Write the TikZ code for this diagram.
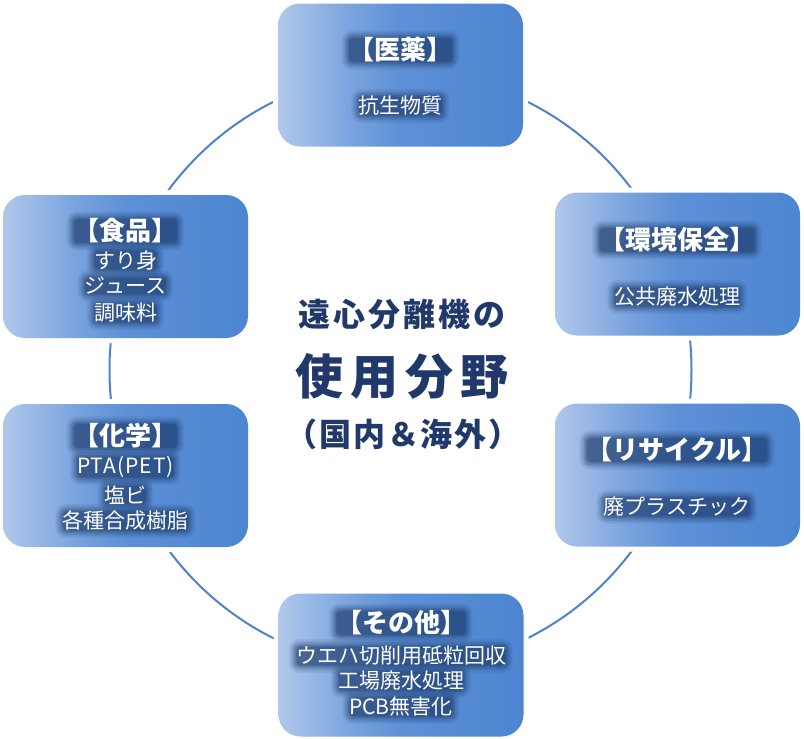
\documentclass[tikz,border=0pt]{standalone}
\usepackage{fontspec}
\newfontfamily\jp{Noto Sans CJK JP}
\definecolor{bl1}{HTML}{B0C8EB}
\definecolor{bl2}{HTML}{79A3DE}
\definecolor{bl3}{HTML}{5D90D7}
\definecolor{bl4}{HTML}{4D85D1}
\definecolor{ringc}{HTML}{4F82CC}
\definecolor{haloB}{HTML}{1A3766}
\definecolor{navy}{HTML}{21396A}
\pgfdeclarehorizontalshading{boxsh}{100bp}{color(0bp)=(bl1); color(25bp)=(bl1); color(40bp)=(bl2); color(50bp)=(bl3); color(75bp)=(bl4); color(100bp)=(bl4)}
\pgfdeclarelayer{back}
\pgfdeclarelayer{mid}
\pgfsetlayers{back,mid,main}
\newcommand\halo[1]{%
  \foreach \k/\o/\r in {7/0.07/10, 5.5/0.09/9, 4/0.12/8, 2.5/0.15/6, 1/0.2/5, -0.5/0.3/4} {%
    \fill[haloB, opacity=\o, rounded corners=\r pt]
      ([shift={(-\k pt,\k pt)}]#1.north west) rectangle ([shift={(\k pt,-\k pt)}]#1.south east);
  }}
\tikzset{
  box/.style={rectangle, rounded corners=22pt, minimum width=245pt, minimum height=143pt,
    inner sep=0pt, shade, shading=boxsh, preaction={draw=white, line width=10pt}},
  head/.style={font=\jp\bfseries\fontsize{26}{30}\selectfont, text=white, inner sep=0pt},
  body/.style={font=\jp\fontsize{21}{26}\selectfont, text=white, inner sep=0pt},
  ring/.style={draw=ringc, line width=2pt},
  ttl/.style={text=navy, inner sep=0pt},
  t1font/.style={font=\jp\bfseries\fontsize{32}{36}\selectfont\addfontfeatures{LetterSpace=10}},
  t2font/.style={font=\jp\bfseries\fontsize{48}{52}\selectfont\addfontfeatures{LetterSpace=14}},
  t3font/.style={font=\jp\bfseries\fontsize{32}{36}\selectfont\addfontfeatures{LetterSpace=6}},
}
\begin{document}
\begin{tikzpicture}[x=1pt,y=-1pt]
\useasboundingbox (0,0) rectangle (804,739);
\coordinate (O) at (400.5,370);

\begin{pgfonlayer}{back}
\fill[white] (0,0) rectangle (804,739);
\draw[ring] (O) ellipse[x radius=291, y radius=298];
\node[box] (med)  at (400.5,75) {};
\node[box] (env)  at (677.5,264) {};
\node[box] (rec)  at (677.5,475) {};
\node[box] (oth)  at (401,665) {};
\node[box] (chem) at (125.5,475.5) {};
\node[box] (food) at (125.5,266.5) {};
\end{pgfonlayer}

\node[head] (med-h) at (400.5,50) {【医薬】};
\node[body] (med-1) at (400.5,106) {抗生物質};

\node[head] (env-h) at (677,240) {【環境保全】};
\node[body] (env-1) at (677,297) {公共廃水処理};

\node[head] (rec-h) at (677,450) {【リサイクル】};
\node[body] (rec-1) at (677,507) {廃プラスチック};

\node[head] (oth-h) at (401,623) {【その他】};
\node[body] (oth-1) at (401,656) {ウエハ切削用砥粒回収};
\node[body] (oth-2) at (401,681) {工場廃水処理};
\node[body] (oth-3) at (401,707) {PCB無害化};

\node[head] (chem-h) at (125.5,436) {【化学】};
\node[body, font=\jp\fontsize{21}{26}\selectfont\addfontfeatures{LetterSpace=5}] (chem-1) at (125.5,467) {PTA(PET)};
\node[body] (chem-2) at (125.5,495) {塩ビ};
\node[body] (chem-3) at (125.5,521) {各種合成樹脂};

\node[head] (food-h) at (125.5,231) {【食品】};
\node[body] (food-1) at (125.5,260) {すり身};
\node[body] (food-2) at (125.5,286) {ジュース};
\node[body] (food-3) at (125.5,313) {調味料};

\begin{pgfonlayer}{mid}
\foreach \n in {med-h,med-1,env-h,env-1,rec-h,rec-1,oth-h,oth-1,oth-2,oth-3,
                chem-h,chem-1,chem-2,chem-3,food-h,food-1,food-2,food-3} {\halo{\n}}
\end{pgfonlayer}

\node[ttl, t1font] (t1) at (402,314) {遠心分離機の};
\node[ttl, t2font] (t2) at (402,376) {使用分野};
\node[ttl, t3font] (t3) at (403,434) {（国内＆海外）};
\end{tikzpicture}
\end{document}
